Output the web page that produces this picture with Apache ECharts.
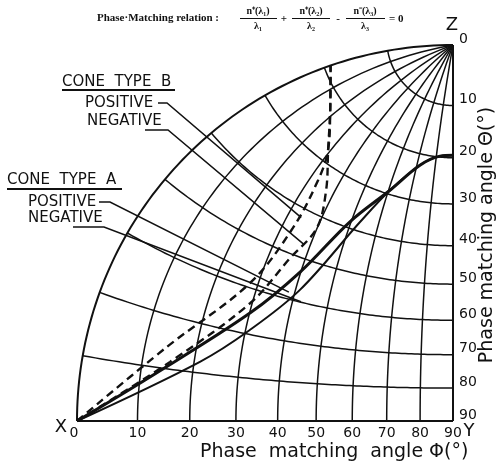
<!DOCTYPE html>
<html>
<head>
<meta charset="utf-8">
<script src="https://cdn.jsdelivr.net/npm/echarts@6/dist/echarts.min.js"></script>
<style>
html,body{margin:0;padding:0;background:#fff;}
#chart{width:499px;height:463px;}
</style>
</head>
<body>
<div id="chart"></div>
<script>
// Phase-matching loci drawn on a stereographic net centred on the Y axis.
// theta: polar angle from Z, phi: azimuth from X toward Y (degrees).

const thetaTicks = [0, 10, 20, 30, 40, 50, 60, 70, 80, 90];
const phiTicks   = [0, 10, 20, 30, 40, 50, 60, 70, 80, 90];

// Cone type A (solid)
const coneAPosTheta = [90, 81.9, 65.3, 53.2, 38.6, 29.1, 22.3, 19.8, 19.5];
const coneAPosPhi   = [0, 11.8, 30.1, 39.8, 49.6, 60.6, 71.6, 82.2, 90];
const coneANegTheta = [90, 77.7, 69.0, 57.2, 37.9, 29.1, 22.3, 19.8, 19.5];
const coneANegPhi   = [0, 21.2, 31.0, 41.2, 53.1, 60.6, 71.6, 82.2, 90];

// Cone type B (dashed)
const coneBPosTheta = [90, 75.9, 59.0, 44.7, 33.6, 27.8, 22.5, 19.0];
const coneBPosPhi   = [0, 14.1, 28.0, 33.1, 32.7, 29.1, 17.7, 0];
const coneBNegTheta = [90, 78.6, 63.2, 50.9, 42.6, 34.5, 27.8, 22.5, 19.0];
const coneBNegPhi   = [0, 15.2, 29.5, 35.8, 39.9, 37.0, 29.1, 17.7, 0];

// Where each label's leader line meets its curve: [theta, phi]
const leaderTargets = {
  bPos: [42, 34],
  bNeg: [47, 38],
  aPos: [58.4, 38.4],
  aNeg: [59.9, 42.3]
};

// Stereographic projection about +Y: X -> (-1,0), Z -> (0,1), Y -> (0,0)
function project(theta, phi) {
  const t = theta * Math.PI / 180, p = phi * Math.PI / 180;
  const x = Math.sin(t) * Math.cos(p);
  const y = Math.sin(t) * Math.sin(p);
  const z = Math.cos(t);
  return [-x / (1 + y), z / (1 + y)];
}

function curve(thetas, phis) {
  return thetas.map((t, i) => project(t, phis[i]));
}

const ink = '#111';
const tickFont = '14px "DejaVu Sans"';

function latitudeItem(params, api) {
  const t = api.value(0);
  const pts = [];
  for (let p = 0; p <= 90; p += 1) pts.push(api.coord(project(t, p)));
  return { type: 'polyline', shape: { points: pts }, style: { stroke: ink, lineWidth: 1.5, fill: null } };
}

function meridianItem(params, api) {
  const p = api.value(0);
  const pts = [];
  for (let t = 0; t <= 90; t += 1) pts.push(api.coord(project(t, p)));
  return { type: 'polyline', shape: { points: pts }, style: { stroke: ink, lineWidth: 1.5, fill: null } };
}

function frameItem(params, api) {
  const k = api.value(0);
  const pts = [];
  for (let s = 0; s <= 90; s += 1) {
    if (k === 0) pts.push(api.coord(project(s, 0)));
    else if (k === 1) pts.push(api.coord(project(90, s)));
    else pts.push(api.coord(project(s, 90)));
  }
  return { type: 'polyline', shape: { points: pts }, style: { stroke: ink, lineWidth: 2, fill: null } };
}

function thetaLabel(params, api) {
  const t = api.value(0);
  const pt = api.coord(project(t, 90));
  return { type: 'text', x: pt[0] + 6, y: pt[1] - 6,
    style: { text: String(t), font: tickFont, fill: ink, align: 'left', verticalAlign: 'middle' } };
}

function phiLabel(params, api) {
  const p = api.value(0);
  const pt = api.coord(project(90, p));
  return { type: 'text', x: pt[0] - (p === 0 ? 3 : 0), y: pt[1] + 12,
    style: { text: String(p), font: tickFont, fill: ink, align: 'center', verticalAlign: 'middle' } };
}

const chart = echarts.init(document.getElementById('chart'), null, { renderer: 'canvas' });

chart.setOption({
  backgroundColor: '#fff',
  animation: false,
  grid: { left: 77, top: 45, width: 376, height: 376 },
  xAxis: { type: 'value', min: -1, max: 0, show: false },
  yAxis: { type: 'value', min: 0, max: 1, show: false },
  series: [
    { type: 'custom', silent: true, renderItem: latitudeItem,
      data: thetaTicks.slice(1, -1).map(t => [t, t]) },
    { type: 'custom', silent: true, renderItem: meridianItem,
      data: phiTicks.slice(1, -1).map(p => [p, p]) },
    { type: 'custom', silent: true, renderItem: frameItem,
      data: [[0, 0], [1, 1], [2, 2]] },
    { type: 'custom', silent: true, renderItem: thetaLabel,
      data: thetaTicks.map(t => [t, t]) },
    { type: 'custom', silent: true, renderItem: phiLabel,
      data: phiTicks.map(p => [p, p]) },
    { name: 'Cone type A positive', type: 'line', data: curve(coneAPosTheta, coneAPosPhi),
      smooth: 0.35, showSymbol: false, silent: true,
      lineStyle: { color: ink, width: 3 } },
    { name: 'Cone type A negative', type: 'line', data: curve(coneANegTheta, coneANegPhi),
      smooth: 0.35, showSymbol: false, silent: true,
      lineStyle: { color: ink, width: 2 } },
    { name: 'Cone type B positive', type: 'line', data: curve(coneBPosTheta, coneBPosPhi),
      smooth: 0.35, showSymbol: false, silent: true,
      lineStyle: { color: ink, width: 2.4, type: [8, 5] } },
    { name: 'Cone type B negative', type: 'line', data: curve(coneBNegTheta, coneBNegPhi),
      smooth: 0.35, showSymbol: false, silent: true,
      lineStyle: { color: ink, width: 2.4, type: [8, 5] } }
  ]
});

const toPx = (t, p) => chart.convertToPixel({ gridIndex: 0 }, project(t, p));

function leader(points) {
  return { type: 'polyline', silent: true, shape: { points: points },
    style: { stroke: ink, lineWidth: 1.5, fill: null } };
}
function label(text, x, y, font, align) {
  return { type: 'text', silent: true, x: x, y: y,
    style: { text: text, font: font, fill: ink, align: align || 'left', verticalAlign: 'middle' } };
}
function rule(x1, x2, y, w) {
  return { type: 'line', silent: true, shape: { x1: x1, y1: y, x2: x2, y2: y },
    style: { stroke: ink, lineWidth: w || 1.2 } };
}

const coneFont = '15px "DejaVu Sans"';
const serif = 'bold 11px "Liberation Serif"';
const fracFont = 'bold 10px "Liberation Serif"';
const titleFont = '19px "DejaVu Sans"';
const pX = toPx(90, 0), pZ = toPx(0, 0), pY = toPx(90, 90);

chart.setOption({
  graphic: [
    // relation above the net
    label('Phase·Matching relation :', 97, 18, serif),
    label('n⁺(λ₁)', 258, 11, fracFont, 'center'), rule(240, 277, 18.5), label('λ₁', 258, 26, fracFont, 'center'),
    label('+', 284, 19, serif, 'center'),
    label('n⁺(λ₂)', 311, 11, fracFont, 'center'), rule(292, 330, 18.5), label('λ₂', 311, 26, fracFont, 'center'),
    label('-', 338, 19, serif, 'center'),
    label('n⁻(λ₃)', 365, 11, fracFont, 'center'), rule(346, 385, 18.5), label('λ₃', 365, 26, fracFont, 'center'),
    label('= 0', 389, 19, serif),

    // axis letters
    label('X', pX[0] - 16, pX[1] + 6, '18px "DejaVu Sans"', 'center'),
    label('Y', pY[0] + 16, pY[1] + 10, '18px "DejaVu Sans"', 'center'),
    label('Z', pZ[0] - 1, pZ[1] - 20, '18px "DejaVu Sans"', 'center'),

    // axis titles
    label('Phase  matching  angle Φ(°)', 200, 452, titleFont),
    { type: 'text', silent: true, x: 487, y: 235, rotation: Math.PI / 2,
      style: { text: 'Phase matching angle Θ(°)', font: '19px "DejaVu Sans"', fill: ink,
        align: 'center', verticalAlign: 'middle' } },

    // cone type B
    label('CONE  TYPE  B', 62, 82, coneFont), rule(62, 175, 90, 2),
    label('POSITIVE', 85, 103, coneFont),
    label('NEGATIVE', 87, 121, coneFont),
    leader([[158, 103], [167, 103], toPx(...leaderTargets.bPos)]),
    leader([[145, 130], [168, 130], toPx(...leaderTargets.bNeg)]),

    // cone type A
    label('CONE  TYPE  A', 7, 180, coneFont), rule(7, 122, 189, 2),
    label('POSITIVE', 28, 202, coneFont),
    label('NEGATIVE', 28, 218, coneFont),
    leader([[99, 202], [110, 202], toPx(...leaderTargets.aPos)]),
    leader([[73, 227], [104, 227], toPx(...leaderTargets.aNeg)])
  ]
});
</script>
</body>
</html>
